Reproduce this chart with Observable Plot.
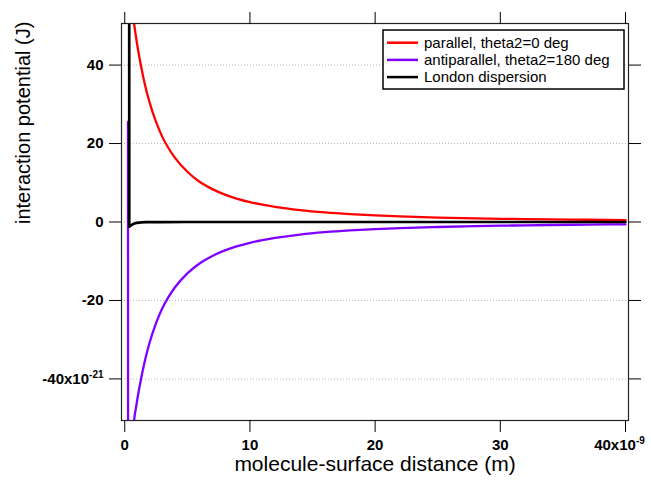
<!DOCTYPE html>
<html>
<head>
<meta charset="utf-8">
<script src="https://cdn.jsdelivr.net/npm/d3@7"></script>
<script src="https://cdn.jsdelivr.net/npm/@observablehq/plot@0.6"></script>
<style>
  html, body { margin: 0; padding: 0; background: white; }
</style>
</head>
<body>
<div id="chart"></div>
<script>
// x in units of 1e-9 m, y in units of 1e-21 J
const parallelX = [0.6, 0.74, 0.9, 1.1, 1.3, 1.6, 2, 2.5, 3, 3.5, 4, 5, 6, 7, 8, 9, 10, 11, 12, 14, 16, 18, 20, 22, 25, 28, 31, 34, 37, 40];
const parallelY = [54.2, 50.7, 47.1, 43.2, 39.7, 35.2, 30.3, 25.5, 21.7, 18.8, 16.4, 12.8, 10.2, 8.38, 6.99, 5.92, 5.08, 4.41, 3.86, 3.03, 2.44, 2.01, 1.68, 1.43, 1.14, 0.94, 0.78, 0.66, 0.57, 0.49];

const antiX = [0.26, 0.3, 0.5, 0.74, 0.9, 1.1, 1.3, 1.6, 2, 2.5, 3, 3.5, 4, 5, 6, 7, 8, 9, 10, 11, 12, 14, 16, 18, 20, 22, 25, 28, 31, 34, 37, 40];
const antiY = [25.5, -400, -90, -50.9, -47.3, -43.4, -40.0, -35.5, -30.6, -25.8, -22.0, -19.1, -16.7, -13.1, -10.5, -8.65, -7.25, -6.16, -5.3, -4.62, -4.06, -3.2, -2.6, -2.16, -1.82, -1.56, -1.27, -1.05, -0.89, -0.77, -0.67, -0.6];

const londonX = [0.32, 0.36, 0.42, 0.5, 0.65, 0.8, 1.0, 1.3, 1.7, 2.2, 3, 5, 10, 20, 30, 40];
const londonY = [600, -1.2, -1.05, -0.85, -0.55, -0.35, -0.2, -0.1, -0.05, -0.025, -0.01, 0, 0, 0, 0, 0];

const xTicks = [0, 10, 20, 30, 40];
const yTicks = [-40, -20, 0, 20, 40];
const legendLabels = ["parallel, theta2=0 deg", "antiparallel, theta2=180 deg", "London dispersion"];
const legendColors = ["#ff0000", "#7f00ff", "#000000"];
const xTitle = "molecule-surface distance (m)";
const yTitle = "interaction potential (J)";

const toRows = (xs, ys) => xs.map((x, i) => ({x, y: ys[i]}));
const parRows = toRows(parallelX, parallelY);
const antiRows = toRows(antiX, antiY);
const lonRows = toRows(londonX, londonY);

const fmtX = d => d === 40 ? "40x10" : String(d);
const fmtY = d => d === -40 ? "-40x10" : String(d);

const svg = Plot.plot({
  width: 651,
  height: 481,
  marginLeft: 121,
  marginRight: 23,
  marginTop: 23,
  marginBottom: 61,
  x: {domain: [-0.26, 40.24]},
  y: {domain: [-50.6, 50.6]},
  style: {fontFamily: "'Liberation Sans', Arial, sans-serif", fontSize: "15px", background: "white", color: "black"},
  marks: [
    Plot.gridY(yTicks, {stroke: "#b8b8b8", strokeOpacity: 1, strokeDasharray: "1,2"}),
    Plot.line(parRows, {x: "x", y: "y", stroke: legendColors[0], strokeWidth: 2.3, curve: "monotone-x", clip: true}),
    Plot.line(antiRows, {x: "x", y: "y", stroke: legendColors[1], strokeWidth: 2.3, curve: "monotone-x", clip: true}),
    Plot.line(lonRows, {x: "x", y: "y", stroke: legendColors[2], strokeWidth: 2.7, clip: true}),
    Plot.frame({stroke: "#222", strokeWidth: 1.2}),
    Plot.axisY(yTicks, {anchor: "left", tickSize: 12, tickPadding: 6, tickFormat: fmtY, fontWeight: "bold", fontSize: 15, label: null}),
    Plot.axisY(yTicks, {anchor: "right", tickSize: 12, tickFormat: () => "", label: null}),
    Plot.axisX(xTicks, {anchor: "bottom", tickSize: 12, tickPadding: 7, tickFormat: fmtX, fontWeight: "bold", fontSize: 15, label: null}),
    Plot.axisX(xTicks, {anchor: "top", tickSize: 12, tickFormat: () => "", label: null}),
    Plot.text([yTitle], {text: d => d, frameAnchor: "left", dx: -98, dy: 2, rotate: -90, fontSize: 20}),
    Plot.text([xTitle], {text: d => d, frameAnchor: "bottom", dy: 50, fontSize: 21})
  ]
});

// superscript exponents on the last tick labels
const ns = "http://www.w3.org/2000/svg";
svg.querySelectorAll("text").forEach(t => {
  if (t.textContent === "-40x10" || t.textContent === "40x10") {
    const exp = t.textContent === "-40x10" ? "-21" : "-9";
    const ts = document.createElementNS(ns, "tspan");
    ts.setAttribute("dy", "-0.6em");
    ts.setAttribute("font-size", "10");
    ts.textContent = exp;
    t.appendChild(ts);
    if (exp === "-9") t.setAttribute("dx", "-6");
  }
});

// legend box inside the plot
const g = d3.select(svg).append("g").attr("text-anchor", "start");
g.append("rect").attr("x", 383).attr("y", 30).attr("width", 241).attr("height", 59)
  .attr("fill", "white").attr("stroke", "black").attr("stroke-width", 1.5);
legendLabels.forEach((lab, i) => {
  const cy = 42.7 + i * 17.2;
  g.append("line").attr("x1", 387).attr("x2", 418).attr("y1", cy).attr("y2", cy)
    .attr("stroke", legendColors[i]).attr("stroke-width", 2.5);
  g.append("text").attr("x", 424).attr("y", cy + 5.3).attr("font-size", 15)
    .attr("text-anchor", "start").attr("fill", "black").text(lab);
});

document.getElementById("chart").appendChild(svg);
</script>
</body>
</html>
